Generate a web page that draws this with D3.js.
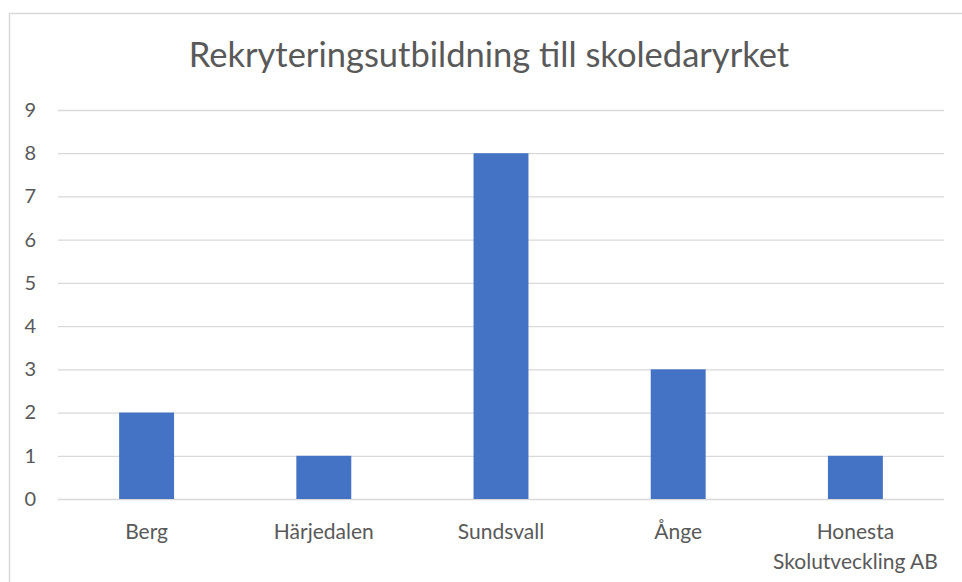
<!DOCTYPE html>
<html>
<head>
<meta charset="utf-8">
<script src="https://cdn.jsdelivr.net/npm/d3@7"></script>
<style>
  html, body { margin: 0; padding: 0; background: #fff; }
  svg { display: block; }
  text { font-family: Lato, "Open Sans", sans-serif; fill: #595959; }
</style>
</head>
<body>
<svg id="chart" width="962" height="582"></svg>
<script>
const title = "Rekryteringsutbildning till skoledaryrket";
const categories = ["Berg", "Härjedalen", "Sundsvall", "Ånge", "Honesta Skolutveckling AB"];
const categoryLines = [["Berg"], ["Härjedalen"], ["Sundsvall"], ["Ånge"], ["Honesta", "Skolutveckling AB"]];
const values = [2, 1, 8, 3, 1];
const yTicks = [0, 1, 2, 3, 4, 5, 6, 7, 8, 9];

const svg = d3.select("#chart");
const W = 962, H = 582;
const plot = { left: 58, right: 944, top: 110, bottom: 499 };

// outer chart border
svg.append("rect")
  .attr("x", 9.5).attr("y", 13.5)
  .attr("width", W + 10).attr("height", H + 10)
  .attr("fill", "#fff").attr("stroke", "#d9d9d9").attr("stroke-width", 1.5);

const x = d3.scaleBand()
  .domain(categories)
  .range([plot.left, plot.right])
  .paddingInner(0.69)
  .paddingOuter(0.345);

const y = d3.scaleLinear()
  .domain([0, 9])
  .range([plot.bottom, plot.top]);

// gridlines
const yAxis = d3.axisLeft(y)
  .tickValues(yTicks)
  .tickSize(-(plot.right - plot.left))
  .tickPadding(22)
  .tickFormat(d3.format("d"));

const gy = svg.append("g")
  .attr("transform", `translate(${plot.left},0)`)
  .call(yAxis);
gy.select(".domain").remove();
gy.selectAll(".tick line").attr("stroke", "#d9d9d9").attr("stroke-width", 1.3);
gy.selectAll(".tick text")
  .style("font-size", "20px")
  .attr("fill", "#595959");

// bars
svg.append("g").selectAll("rect")
  .data(values)
  .join("rect")
  .attr("x", (d, i) => x(categories[i]))
  .attr("width", x.bandwidth())
  .attr("y", d => y(d))
  .attr("height", d => y(0) - y(d))
  .attr("fill", "#4472C4");

// category labels
const gx = svg.append("g");
categories.forEach((c, i) => {
  const t = gx.append("text")
    .attr("x", x(c) + x.bandwidth() / 2)
    .attr("y", 539)
    .attr("text-anchor", "middle")
    .style("font-size", "21px");
  categoryLines[i].forEach((line, j) => {
    t.append("tspan")
      .attr("x", x(c) + x.bandwidth() / 2)
      .attr("dy", j === 0 ? 0 : 30)
      .text(line);
  });
});

// title
svg.append("text")
  .attr("x", (plot.left + plot.right) / 2 - 12)
  .attr("y", 67)
  .attr("text-anchor", "middle")
  .style("font-size", "34.5px")
  .text(title);
</script>
</body>
</html>
